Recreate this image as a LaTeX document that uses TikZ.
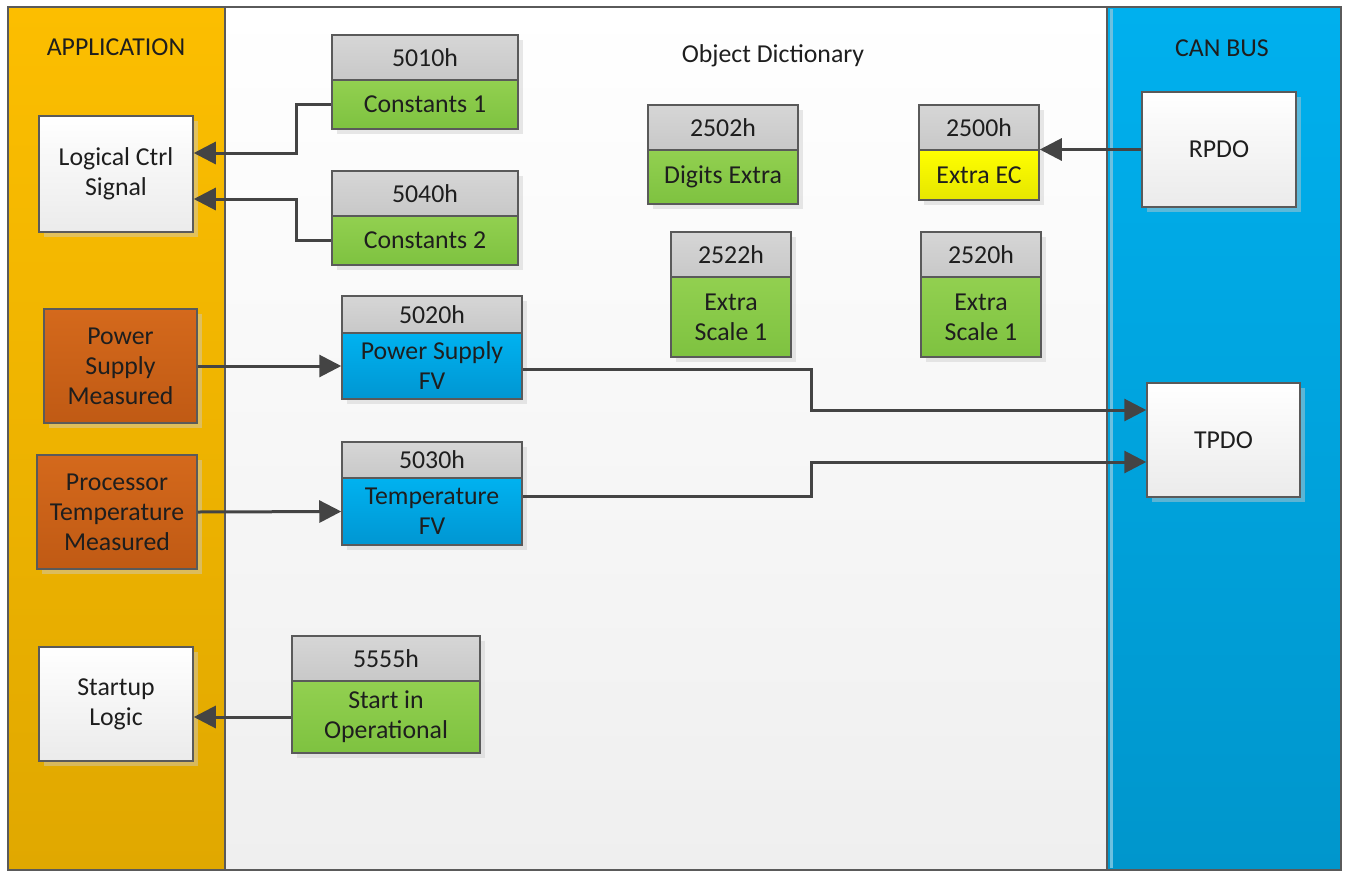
\documentclass[tikz,border=0pt]{standalone}
\usepackage{fontspec}
\setmainfont{Carlito}
\usetikzlibrary{arrows.meta,shadows}
\definecolor{bord}{HTML}{5A5A5A}
\definecolor{txt}{HTML}{1E1E1E}
\definecolor{appT}{HTML}{FCBE00}
\definecolor{appB}{HTML}{E0A800}
\definecolor{canT}{HTML}{00B0EE}
\definecolor{canB}{HTML}{0096CC}
\definecolor{canS}{HTML}{6CC0E0}
\definecolor{odB}{HTML}{EFEFEF}
\definecolor{grayT}{HTML}{D6D6D6}
\definecolor{grayB}{HTML}{C8C8C8}
\definecolor{grnT}{HTML}{92D050}
\definecolor{grnB}{HTML}{7EC240}
\definecolor{bluT}{HTML}{00B2F0}
\definecolor{bluB}{HTML}{0096D2}
\definecolor{yelT}{HTML}{FFFF00}
\definecolor{yelB}{HTML}{E6E600}
\definecolor{orT}{HTML}{D4691C}
\definecolor{orB}{HTML}{C05A14}
\definecolor{wT}{HTML}{FFFFFF}
\definecolor{wB}{HTML}{EBEBEB}
\definecolor{conn}{HTML}{444444}
\tikzset{
  panel/.style={draw=bord, line width=1.2pt},
  title/.style={text=txt, inner sep=0pt},
  box/.style={draw=bord, line width=1.5pt, align=center, inner sep=0pt, text=txt,
    general shadow={shadow xshift=5pt, shadow yshift=-5pt, fill=black!20, opacity=0.45}},
  hdr/.style={box, top color=grayT, bottom color=grayB},
  grn/.style={box, top color=grnT, bottom color=grnB},
  blu/.style={box, top color=bluT, bottom color=bluB},
  yel/.style={box, top color=yelT, bottom color=yelB},
  org/.style={box, top color=orT, bottom color=orB},
  wht/.style={box, top color=wT, bottom color=wB},
  link/.style={draw=conn, line width=3pt, -{Triangle[length=22pt, width=22pt]}},
}
\begin{document}
\begin{tikzpicture}[x=1pt, y=-1pt, font=\fontsize{25.8}{30}\selectfont]
\useasboundingbox (0,0) rectangle (1345,871);
\fill[white] (0,0) rectangle (1345,871);
% panels
\draw[panel, top color=appT, bottom color=appB] (8,7) rectangle (225,870);
\draw[panel, top color=white, bottom color=odB] (225,7) rectangle (1107,870);
\draw[panel, top color=canT, bottom color=canB] (1107,7) rectangle (1341,870);
\draw[canS, line width=3pt] (1111,9) -- (1111,868);
\node[title] (tapp) at (116,47) {APPLICATION};
\node[title] (tod) at (773,56) {Object Dictionary};
\node[title] (tcan) at (1222,48) {CAN BUS};
% application boxes
\node[wht, minimum width=154pt, minimum height=116pt] (lcs) at (116,174) {Logical Ctrl\\Signal};
\node[org, minimum width=153pt, minimum height=114pt] (psm) at (120.5,366) {Power\\Supply\\Measured};
\node[org, minimum width=160pt, minimum height=114pt] (ptm) at (117,512) {Processor\\Temperature\\Measured};
\node[wht, minimum width=154pt, minimum height=114pt] (sl) at (116,704) {Startup\\Logic};
% CAN bus boxes
\node[wht, minimum width=154pt, minimum height=115pt] (rpdo) at (1219,149.5) {RPDO};
\node[wht, minimum width=153pt, minimum height=114pt] (tpdo) at (1223.5,440) {TPDO};
% object dictionary entries
\node[hdr, minimum width=186pt, minimum height=45pt] (h5010) at (425,57.5) {5010h};
\node[grn, minimum width=186pt, minimum height=49pt] (b5010) at (425,104.5) {Constants 1};
\node[hdr, minimum width=186pt, minimum height=45pt] (h5040) at (425,193.5) {5040h};
\node[grn, minimum width=186pt, minimum height=49pt] (b5040) at (425,240.5) {Constants 2};
\node[hdr, minimum width=180pt, minimum height=37pt] (h5020) at (432,314.5) {5020h};
\node[blu, minimum width=180pt, minimum height=66pt] (b5020) at (432,366) {Power Supply\\FV};
\node[hdr, minimum width=180pt, minimum height=36pt] (h5030) at (432,460) {5030h};
\node[blu, minimum width=180pt, minimum height=67pt] (b5030) at (432,511.5) {Temperature\\FV};
\node[hdr, minimum width=188pt, minimum height=45pt] (h5555) at (386,658.5) {5555h};
\node[grn, minimum width=188pt, minimum height=72pt] (b5555) at (386,717) {Start in\\Operational};
\node[hdr, minimum width=150pt, minimum height=45pt] (h2502) at (723,127.5) {2502h};
\node[grn, minimum width=150pt, minimum height=54pt] (b2502) at (723,177) {Digits Extra};
\node[hdr, minimum width=120pt, minimum height=45pt] (h2522) at (731,254.5) {2522h};
\node[grn, minimum width=120pt, minimum height=80pt] (b2522) at (731,317) {Extra\\Scale 1};
\node[hdr, minimum width=120pt, minimum height=45pt] (h2500) at (979,127.5) {2500h};
\node[yel, minimum width=120pt, minimum height=50pt] (b2500) at (979,175) {Extra EC};
\node[hdr, minimum width=120pt, minimum height=45pt] (h2520) at (981,254.5) {2520h};
\node[grn, minimum width=120pt, minimum height=80pt] (b2520) at (981,317) {Extra\\Scale 1};
% connectors
\draw[link] (b5010.west) -- ++(-35,0) |- ([yshift=21pt]lcs.east);
\draw[link] (b5040.west) -- ++(-35,0) |- ([yshift=-25pt]lcs.east);
\draw[link] (psm.east) -- (b5020.west);
\draw[link] (ptm.east) -- (b5030.west);
\draw[link] (b5555.west) -- (sl.east |- b5555.west);
\draw[link] (rpdo.west) -- (h2500.south east |- rpdo.west);
\draw[link] ([yshift=-3pt]b5020.east) -- ++(289,0) |- ([yshift=30pt]tpdo.west);
\draw[link] ([yshift=15.5pt]b5030.east) -- ++(289,0) |- ([yshift=-22pt]tpdo.west);
\end{tikzpicture}
\end{document}
